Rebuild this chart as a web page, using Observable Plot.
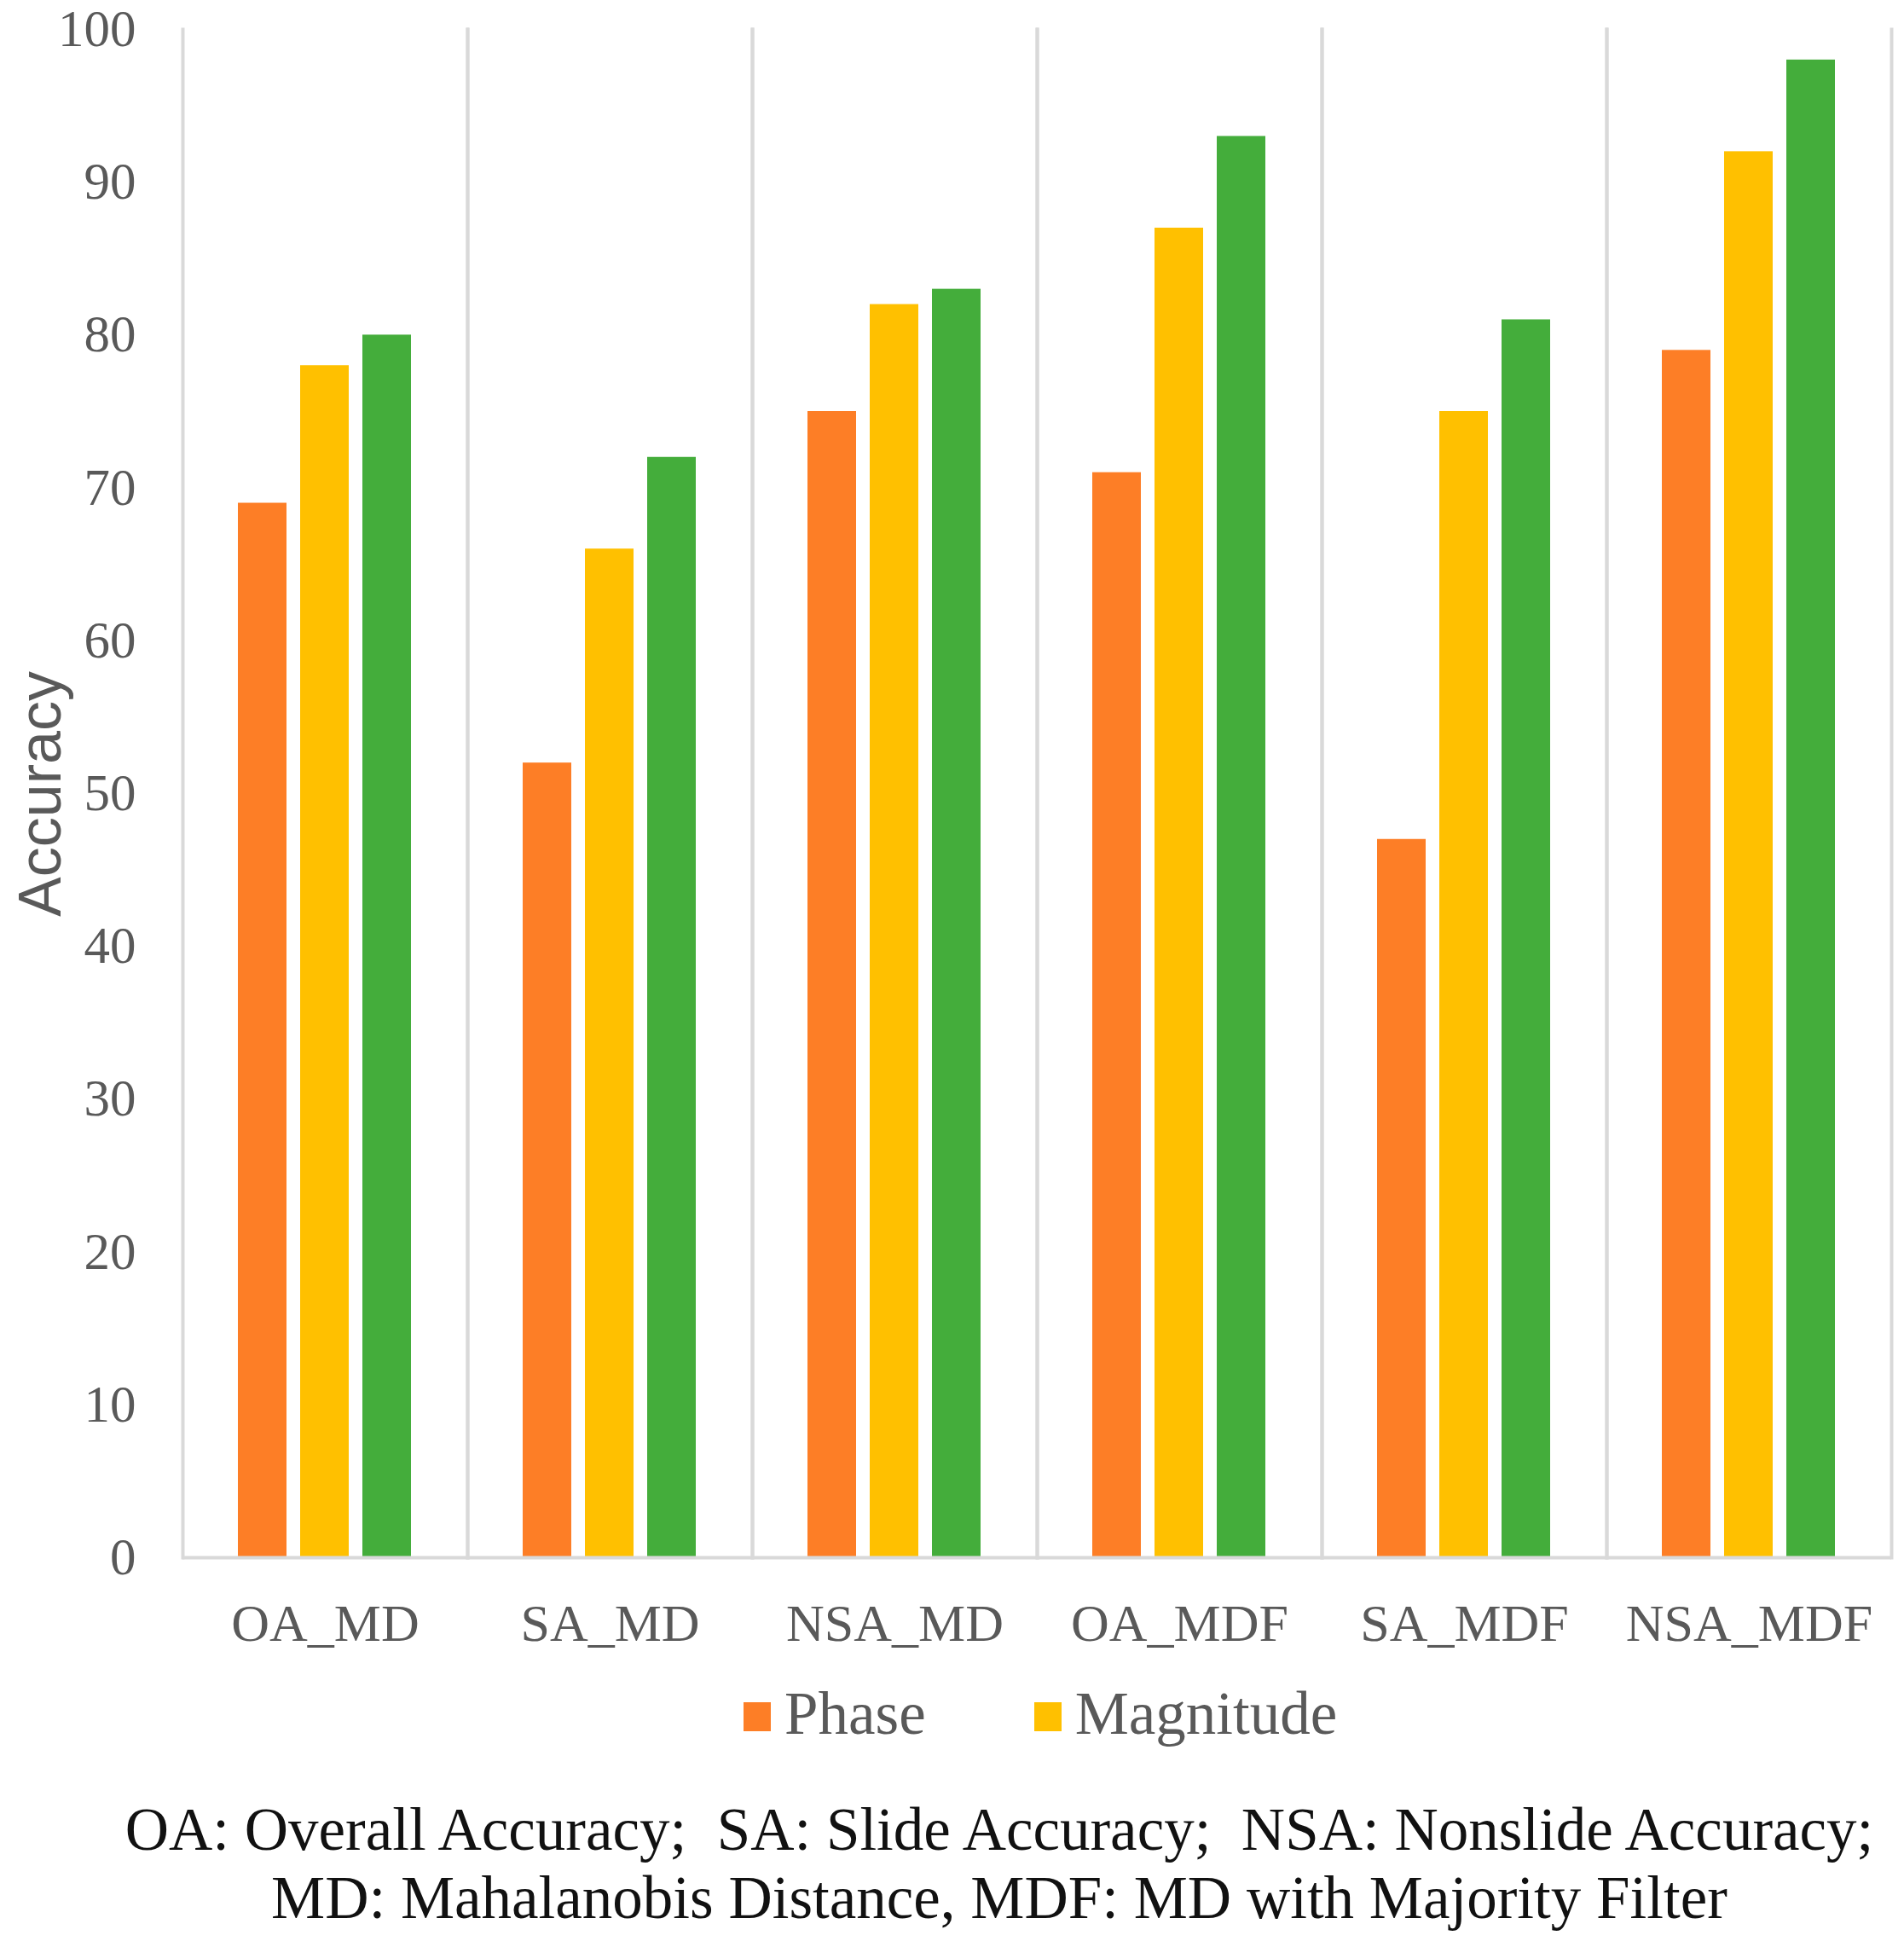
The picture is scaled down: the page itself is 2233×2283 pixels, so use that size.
<!DOCTYPE html>
<html>
<head>
<meta charset="utf-8">
<script src="https://cdn.jsdelivr.net/npm/d3@7"></script>
<script src="https://cdn.jsdelivr.net/npm/@observablehq/plot@0.6"></script>
<style>
  html, body { margin: 0; padding: 0; background: #fff; }
  #wrap { position: relative; width: 2233px; height: 2283px; overflow: hidden; }
  #chart { position: absolute; left: 0; top: 0; }
  #ylabel {
    position: absolute; left: 47px; top: 931px;
    transform: translate(-50%, -50%) rotate(-90deg);
    font: 70px "Liberation Sans", Arial, sans-serif; color: #595959; white-space: nowrap;
  }
  #legend {
    position: absolute; left: 872px; top: 1969px;
    display: flex; align-items: flex-start;
    font: 71px/80px "Liberation Serif", "Times New Roman", serif; color: #595959;
  }
  #legend .sw { width: 32px; height: 34px; margin-top: 27px; margin-right: 16px; }
  #legend .item { display: flex; align-items: flex-start; margin-right: 127px; }
  #caption {
    position: absolute; left: 111px; right: 0; top: 2105px; text-align: center;
    font: 71px/80px "Liberation Serif", "Times New Roman", serif; color: #111; white-space: pre;
  }
</style>
</head>
<body>
<div id="wrap">
  <div id="chart"></div>
  <div id="ylabel">Accuracy</div>
  <div id="legend"></div>
  <div id="caption"></div>
</div>
<script>
// Accuracy per method / metric, three feature sets
const categories = ["OA_MD", "SA_MD", "NSA_MD", "OA_MDF", "SA_MDF", "NSA_MDF"];
const series = ["Phase", "Magnitude", "Combined"];
const phase = [69, 52, 75, 71, 47, 79];
const magnitude = [78, 66, 82, 87, 75, 92];
const combined = [80, 72, 83, 93, 81, 98];
const colors = ["#fd7e26", "#ffc000", "#44ad3b"];
const legendItems = ["Phase", "Magnitude"];
const captionLines = [
  "OA: Overall Accuracy;  SA: Slide Accuracy;  NSA: Nonslide Accuracy;",
  "MD: Mahalanobis Distance, MDF: MD with Majority Filter"
];

const values = [phase, magnitude, combined];
const rows = categories.flatMap((c, i) =>
  series.map((s, j) => ({ category: c, series: s, value: values[j][i] }))
);

const plot = Plot.plot({
  width: 2233,
  height: 1960,
  marginLeft: 211,
  marginRight: 13,
  marginTop: 34,
  marginBottom: 134,
  style: { fontFamily: "'Liberation Serif', 'Times New Roman', serif", fontSize: "60px", color: "#595959", background: "#fff" },
  fx: { domain: categories, padding: 0, label: null },
  x: { domain: series, paddingInner: 0.216, paddingOuter: 0.87, axis: null },
  y: { domain: [0, 100], label: null },
  color: { domain: series, range: colors },
  marks: [
    Plot.frame({ anchor: "left", stroke: "#d9d9d9", strokeWidth: 4 }),
    Plot.frame({ anchor: "right", stroke: "#d9d9d9", strokeWidth: 4 }),
    Plot.barY(rows, { fx: "category", x: "series", y: "value", fill: "series" }),
    Plot.ruleY([0], { stroke: "#d9d9d9", strokeWidth: 4 }),
    Plot.axisY({ ticks: 10, tickSize: 0, tickPadding: 55, fontSize: 61, label: null }),
    Plot.axisFx({ anchor: "bottom", tickSize: 0, tickPadding: 53, fontSize: 62, label: null })
  ]
});
document.getElementById("chart").appendChild(plot);

// legend (only the two labelled entries, as in the source figure)
const legend = document.getElementById("legend");
legendItems.forEach(name => {
  const item = document.createElement("div");
  item.className = "item";
  const sw = document.createElement("span");
  sw.className = "sw";
  sw.style.background = colors[series.indexOf(name)];
  const label = document.createElement("span");
  label.textContent = name;
  item.append(sw, label);
  legend.appendChild(item);
});

document.getElementById("caption").textContent = captionLines.join("\n");
</script>
</body>
</html>
